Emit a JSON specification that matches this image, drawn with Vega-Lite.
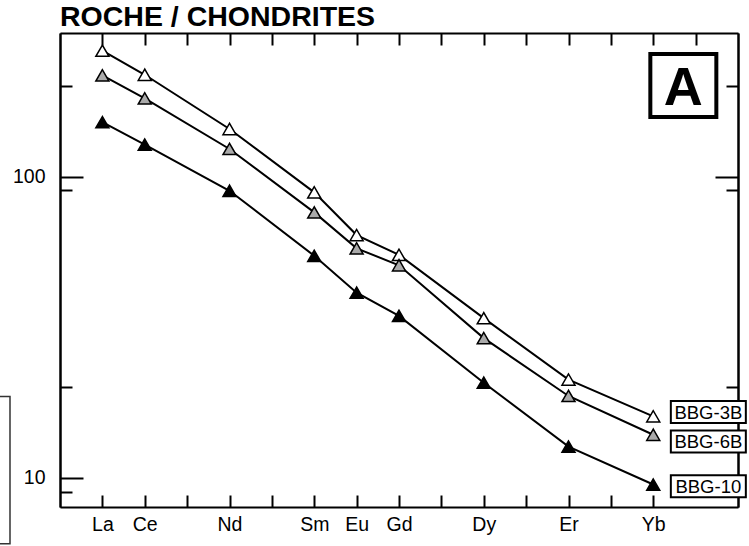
{
  "$schema": "https://vega.github.io/schema/vega-lite/v6.json",
  "width": 678,
  "height": 474,
  "autosize": {"type": "none"},
  "padding": {"left": 60, "top": 33, "right": 11, "bottom": 39},
  "background": "white",
  "title": {
    "text": "ROCHE / CHONDRITES",
    "anchor": "start",
    "frame": "group",
    "font": "Liberation Sans",
    "fontSize": 28.5,
    "fontWeight": "bold",
    "color": "black",
    "baseline": "alphabetic",
    "offset": -22
  },
  "config": {
    "view": {"stroke": null},
    "title": {"color": "black"},
    "axis": {
      "grid": false,
      "domainColor": "black",
      "domainWidth": 2,
      "tickColor": "black",
      "tickWidth": 2,
      "labelFont": "Liberation Sans",
      "labelColor": "black",
      "labelFontSize": 19.5,
      "labelOverlap": false,
      "labelFlush": false,
      "labelBound": false,
      "title": null
    }
  },
  "datasets": {
    "ree": [
      {"sample": "BBG-3B", "element": "La", "z": 57, "value": 262},
      {"sample": "BBG-3B", "element": "Ce", "z": 58, "value": 218},
      {"sample": "BBG-3B", "element": "Nd", "z": 60, "value": 144},
      {"sample": "BBG-3B", "element": "Sm", "z": 62, "value": 88.7},
      {"sample": "BBG-3B", "element": "Eu", "z": 63, "value": 64},
      {"sample": "BBG-3B", "element": "Gd", "z": 64, "value": 55},
      {"sample": "BBG-3B", "element": "Dy", "z": 66, "value": 33.9},
      {"sample": "BBG-3B", "element": "Er", "z": 68, "value": 21.2},
      {"sample": "BBG-3B", "element": "Yb", "z": 70, "value": 16},
      {"sample": "BBG-6B", "element": "La", "z": 57, "value": 217},
      {"sample": "BBG-6B", "element": "Ce", "z": 58, "value": 182},
      {"sample": "BBG-6B", "element": "Nd", "z": 60, "value": 123.6},
      {"sample": "BBG-6B", "element": "Sm", "z": 62, "value": 76.1},
      {"sample": "BBG-6B", "element": "Eu", "z": 63, "value": 57.8},
      {"sample": "BBG-6B", "element": "Gd", "z": 64, "value": 50.8},
      {"sample": "BBG-6B", "element": "Dy", "z": 66, "value": 29.1},
      {"sample": "BBG-6B", "element": "Er", "z": 68, "value": 18.7},
      {"sample": "BBG-6B", "element": "Yb", "z": 70, "value": 13.9},
      {"sample": "BBG-10", "element": "La", "z": 57, "value": 151.7},
      {"sample": "BBG-10", "element": "Ce", "z": 58, "value": 127.8},
      {"sample": "BBG-10", "element": "Nd", "z": 60, "value": 89.8},
      {"sample": "BBG-10", "element": "Sm", "z": 62, "value": 54.6},
      {"sample": "BBG-10", "element": "Eu", "z": 63, "value": 41.2},
      {"sample": "BBG-10", "element": "Gd", "z": 64, "value": 34.5},
      {"sample": "BBG-10", "element": "Dy", "z": 66, "value": 20.7},
      {"sample": "BBG-10", "element": "Er", "z": 68, "value": 12.7},
      {"sample": "BBG-10", "element": "Yb", "z": 70, "value": 9.5}
    ],
    "labels": [
      {"label": "BBG-3B", "lx": 71.3, "ly": 16.55},
      {"label": "BBG-6B", "lx": 71.3, "ly": 13.21},
      {"label": "BBG-10", "lx": 71.3, "ly": 9.38}
    ],
    "panel": [
      {"tag": "A", "px": 70.71, "py": 200.7}
    ],
    "frame": [
      {"x1": 50, "x2": 54.82, "y1": 6.04, "y2": 18.64}
    ]
  },
  "layer": [
    {
      "data": {"name": "ree"},
      "mark": {"type": "line", "color": "black", "strokeWidth": 2},
      "encoding": {
        "x": {
          "field": "z", "type": "quantitative",
          "scale": {"domain": [56, 72], "nice": false, "zero": false},
          "axis": {
            "orient": "bottom",
            "values": [57, 58, 59, 60, 61, 62, 63, 64, 65, 66, 67, 68, 69, 70],
            "tickSize": -12,
            "labelPadding": 20,
            "labelExpr": "['La','Ce','','Nd','','Sm','Eu','Gd','','Dy','','Er','','Yb'][datum.value-57]"
          }
        },
        "y": {
          "field": "value", "type": "quantitative",
          "scale": {"type": "log", "domain": [8, 300], "nice": false},
          "axis": {
            "orient": "left",
            "values": [10, 100],
            "tickSize": -23,
            "labelPadding": 38,
            "format": "d"
          }
        },
        "detail": {"field": "sample"}
      }
    },
    {
      "data": {"name": "ree"},
      "mark": {"type": "point", "shape": "triangle-up", "filled": true, "size": 170, "stroke": "black", "strokeWidth": 1.5, "opacity": 1},
      "encoding": {
        "x": {
          "field": "z", "type": "quantitative",
          "scale": {"domain": [56, 72], "nice": false, "zero": false},
          "axis": {
            "orient": "top",
            "values": [57, 58, 59, 60, 61, 62, 63, 64, 65, 66, 67, 68, 69, 70, 71],
            "tickSize": -12,
            "labels": false
          }
        },
        "y": {
          "field": "value", "type": "quantitative",
          "scale": {"type": "log", "domain": [8, 300], "nice": false},
          "axis": {"orient": "right", "values": [10, 100], "tickSize": -23, "labels": false}
        },
        "fill": {
          "field": "sample", "type": "nominal",
          "scale": {"domain": ["BBG-3B", "BBG-6B", "BBG-10"], "range": ["#ffffff", "#aaaaaa", "#000000"]},
          "legend": null
        }
      }
    },
    {
      "data": {"name": "labels"},
      "mark": {"type": "rect", "width": 75, "height": 22, "fill": "white", "stroke": "black", "strokeWidth": 2},
      "encoding": {
        "x": {"field": "lx", "type": "quantitative", "scale": {"domain": [56, 72], "nice": false, "zero": false}, "axis": null},
        "y": {
          "field": "ly", "type": "quantitative",
          "scale": {"type": "log", "domain": [8, 300], "nice": false},
          "axis": {"orient": "left", "values": [9, 20, 90, 200], "tickSize": -12, "labels": false}
        }
      }
    },
    {
      "data": {"name": "labels"},
      "mark": {"type": "text", "font": "Liberation Sans", "fontSize": 18.5, "align": "center", "baseline": "middle", "color": "black", "dy": 1},
      "encoding": {
        "x": {"field": "lx", "type": "quantitative", "scale": {"domain": [56, 72], "nice": false, "zero": false}, "axis": null},
        "y": {
          "field": "ly", "type": "quantitative",
          "scale": {"type": "log", "domain": [8, 300], "nice": false},
          "axis": {"orient": "right", "values": [9, 20, 90, 200], "tickSize": -12, "labels": false}
        },
        "text": {"field": "label"}
      }
    },
    {
      "data": {"name": "panel"},
      "mark": {"type": "rect", "width": 66, "height": 63, "fill": "white", "stroke": "black", "strokeWidth": 4},
      "encoding": {
        "x": {"field": "px", "type": "quantitative", "scale": {"domain": [56, 72], "nice": false, "zero": false}, "axis": null},
        "y": {"field": "py", "type": "quantitative", "scale": {"type": "log", "domain": [8, 300], "nice": false}, "axis": null}
      }
    },
    {
      "data": {"name": "panel"},
      "mark": {"type": "text", "font": "Liberation Sans", "fontSize": 54, "fontWeight": "bold", "align": "center", "baseline": "alphabetic", "dy": 19, "color": "black"},
      "encoding": {
        "x": {"field": "px", "type": "quantitative", "scale": {"domain": [56, 72], "nice": false, "zero": false}, "axis": null},
        "y": {"field": "py", "type": "quantitative", "scale": {"type": "log", "domain": [8, 300], "nice": false}, "axis": null},
        "text": {"field": "tag"}
      }
    },
    {
      "data": {"name": "frame"},
      "mark": {"type": "rect", "fill": null, "fillOpacity": 0, "stroke": "#333333", "strokeWidth": 1.5},
      "encoding": {
        "x": {"field": "x1", "type": "quantitative", "scale": {"domain": [56, 72], "nice": false, "zero": false}, "axis": null},
        "x2": {"field": "x2"},
        "y": {"field": "y1", "type": "quantitative", "scale": {"type": "log", "domain": [8, 300], "nice": false}, "axis": null},
        "y2": {"field": "y2"}
      }
    }
  ],
  "resolve": {"axis": {"x": "independent", "y": "independent"}}
}
